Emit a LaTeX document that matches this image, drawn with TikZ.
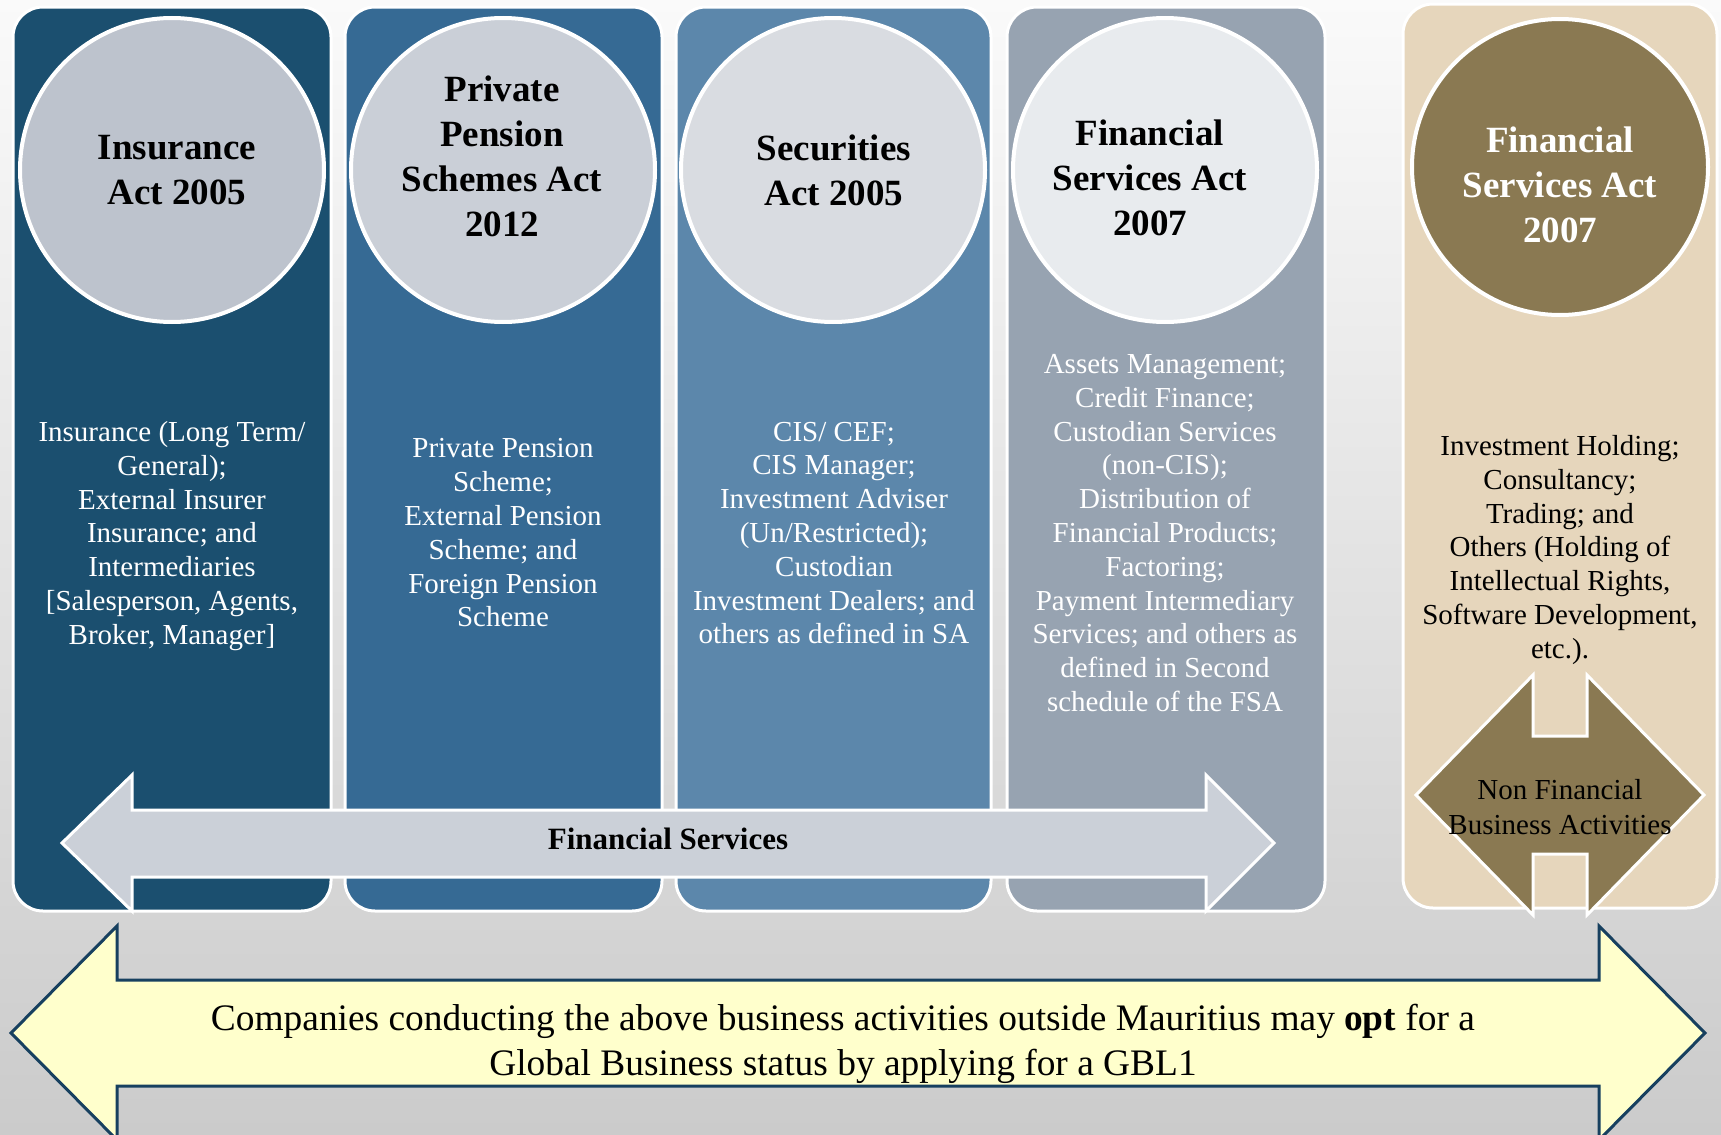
\documentclass[tikz,border=0pt]{standalone}
\usepackage{fontspec}
\setmainfont{Liberation Serif}
\usetikzlibrary{positioning}
\definecolor{bgTop}{HTML}{FAFAFA}
\definecolor{bgBottom}{HTML}{CBCBCB}
\definecolor{insuranceBlue}{HTML}{1B4F6F}
\definecolor{pensionBlue}{HTML}{366A94}
\definecolor{securitiesBlue}{HTML}{5C87AB}
\definecolor{servicesGrey}{HTML}{97A3B1}
\definecolor{nonFinSand}{HTML}{E6D6BC}
\definecolor{insuranceCirc}{HTML}{BDC3CD}
\definecolor{pensionCirc}{HTML}{CACFD7}
\definecolor{securitiesCirc}{HTML}{D9DCE1}
\definecolor{servicesCirc}{HTML}{E8EBEE}
\definecolor{nonFinBrown}{HTML}{8A7952}
\definecolor{arrowGrey}{HTML}{CBD0D8}
\definecolor{gblYellow}{HTML}{FFFFCC}
\definecolor{gblNavy}{HTML}{17405F}

\begin{document}
\begin{tikzpicture}[x=0.5pt, y=-0.5pt,
    colbox/.style={draw=white, line width=1.5pt, rounded corners=15pt},
    act/.style={circle, draw=white, line width=2pt, minimum size=152pt, inner sep=0pt},
    acttitle/.style={font=\fontsize{18.5}{22.5}\selectfont\bfseries, align=center},
    actbody/.style={font=\fontsize{14.5}{16.9}\selectfont, align=center, text=white}]
    \clip (0,0) rectangle (1721,1135);
    \shade[top color=bgTop, bottom color=bgBottom] (0,0) rectangle (1721,1135);

    \draw[colbox, fill=insuranceBlue] (13,7) rectangle (331,911);
    \draw[colbox, fill=pensionBlue] (345,7) rectangle (662,911);
    \draw[colbox, fill=securitiesBlue] (676,7) rectangle (991,911);
    \draw[colbox, fill=servicesGrey] (1007,7) rectangle (1325,911);
    \draw[colbox, fill=nonFinSand] (1403,4) rectangle (1717,908);

    \node[act, fill=insuranceCirc] (insAct) at (172,170) {};
    \node[act, fill=pensionCirc] (penAct) at (503,170) {};
    \node[act, fill=securitiesCirc] (secAct) at (833,170) {};
    \node[act, fill=servicesCirc] (fsaAct) at (1165,170) {};
    \node[act, fill=nonFinBrown, minimum size=148pt] (nfAct) at (1560,167) {};

    \node[acttitle] (insTitle) at (177,170) {Insurance\\Act 2005};
    \node[acttitle] (penTitle) at (502,156) {Private\\Pension\\Schemes Act\\2012};
    \node[acttitle] (secTitle) at (834,170) {Securities\\Act 2005};
    \node[acttitle] (fsaTitle) at (1150,178) {Financial\\Services Act\\2007};
    \node[acttitle, text=white] (nfTitle) at (1560,185) {Financial\\Services Act\\2007};

    \node[actbody] (insBody) at (172,536)
      {Insurance (Long Term/\\General);\\External Insurer\\Insurance; and\\Intermediaries\\{}[Salesperson, Agents,\\Broker, Manager]};
    \node[actbody] (penBody) at (503,533)
      {Private Pension\\Scheme;\\External Pension\\Scheme; and\\Foreign Pension\\Scheme};
    \node[actbody] (secBody) at (834,533)
      {CIS/ CEF;\\CIS Manager;\\Investment Adviser\\(Un/Restricted);\\Custodian\\Investment Dealers; and\\others as defined in SA};
    \node[actbody] (fsaBody) at (1165,533)
      {Assets Management;\\Credit Finance;\\Custodian Services\\(non-CIS);\\Distribution of\\Financial Products;\\Factoring;\\Payment Intermediary\\Services; and others as\\defined in Second\\schedule of the FSA};
    \node[actbody, text=black] (nfBody) at (1560,550)
      {Investment Holding;\\Consultancy;\\Trading; and\\Others (Holding of\\Intellectual Rights,\\Software Development,\\etc.).};

    \draw[draw=white, line width=1.5pt, fill=arrowGrey]
      (62,843) -- (132,775) -- (132,810) -- (1206,810) -- (1206,775) -- (1274,843)
      -- (1206,911) -- (1206,877) -- (132,877) -- (132,911) -- cycle;
    \node[font=\fontsize{15.5}{18}\selectfont\bfseries] (finServ) at (668,839) {Financial Services};

    \draw[draw=white, line width=1.5pt, fill=nonFinBrown]
      (1416,795) -- (1533,675) -- (1533,736) -- (1587,736) -- (1587,675) -- (1704,795)
      -- (1587,915) -- (1587,854) -- (1533,854) -- (1533,915) -- cycle;
    \node[font=\fontsize{14.5}{17.5}\selectfont, align=center] (nfLabel) at (1560,807)
      {Non Financial\\Business Activities};

    \draw[draw=gblNavy, line width=1.5pt, fill=gblYellow]
      (11,1033) -- (117,926) -- (117,980) -- (1599,980) -- (1599,926) -- (1705,1033)
      -- (1599,1140) -- (1599,1086) -- (117,1086) -- (117,1140) -- cycle;
    \node[font=\fontsize{18.7}{22.5}\selectfont, align=center] (gblNote) at (843,1044)
      {Companies conducting the above business activities outside Mauritius may \textbf{opt} for a\\Global Business status by applying for a GBL1};
\end{tikzpicture}
\end{document}
